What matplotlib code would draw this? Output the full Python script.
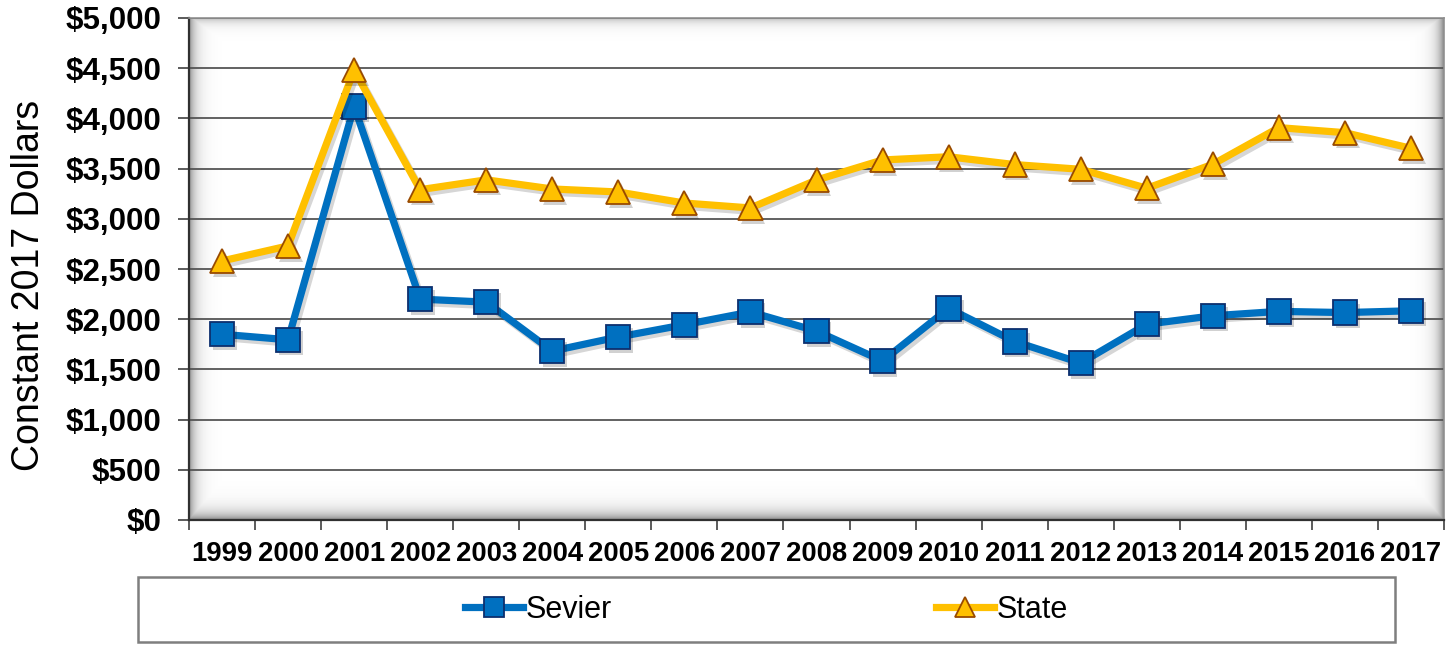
import numpy as np
import matplotlib
matplotlib.use("Agg")
import matplotlib.pyplot as plt
import matplotlib.patheffects as pe
from matplotlib.patches import Rectangle
from matplotlib.ticker import FuncFormatter, FixedLocator

plt.rcParams['font.family'] = ['Liberation Sans', 'DejaVu Sans']

years = ['1999', '2000', '2001', '2002', '2003', '2004', '2005', '2006', '2007', '2008',
         '2009', '2010', '2011', '2012', '2013', '2014', '2015', '2016', '2017']
sevier = [1850, 1795, 4120, 2200, 2170, 1683, 1823, 1945, 2072, 1882,
          1584, 2108, 1778, 1564, 1950, 2034, 2078, 2066, 2084]
state = [2580, 2730, 4482, 3290, 3388, 3297, 3267, 3157, 3108, 3386,
         3586, 3618, 3540, 3493, 3304, 3543, 3908, 3858, 3702]
yticks = list(range(0, 5001, 500))
series_names = ['Sevier', 'State']

W, H = 1452, 646
fig = plt.figure(figsize=(W / 100, H / 100), dpi=100)
ax = fig.add_axes([189 / W, 1 - 520 / H, (1444 - 189) / W, (520 - 18) / H])

x = np.arange(len(years))

# inner shadow of plot area
ny, nx = 502, 1255
yy, xx = np.mgrid[0:ny, 0:nx]
d_left = xx
d_right = nx - 1 - xx
d_bottom = ny - 1 - yy
d_top = yy
a = np.maximum.reduce([
    0.60 * np.exp(-d_left / 6.5),
    0.65 * np.exp(-d_right / 6.5),
    0.65 * np.exp(-d_bottom / 7.5),
    0.35 * np.exp(-d_top / 5.0),
])
img = np.zeros((ny, nx, 4))
img[..., :3] = 0.3
img[..., 3] = a
ax.imshow(img, extent=(0, 1, 0, 1), transform=ax.transAxes, aspect='auto',
          zorder=0.2, interpolation='bilinear')

ax.set_xlim(-0.5, len(years) - 0.5)
ax.set_ylim(0, 5000)
ax.set_axisbelow(True)
ax.yaxis.grid(True, color='#555555', linewidth=1.3)

shadow_line = [pe.SimpleLineShadow(offset=(2, -2.5), shadow_color='k', alpha=0.16), pe.Normal()]
shadow_mark = [pe.SimplePatchShadow(offset=(2, -2.5), shadow_rgbFace='k', alpha=0.18), pe.Normal()]

# Sevier
ax.plot(x, sevier, color='#0070C0', linewidth=5.2, solid_joinstyle='round',
        zorder=3, path_effects=shadow_line)
ax.plot(x, sevier, linestyle='none', marker='s', markersize=17.5,
        markerfacecolor='#0070C0', markeredgecolor='#0D2F6E', markeredgewidth=1.3,
        zorder=4, path_effects=shadow_mark)
# State
ax.plot(x, state, color='#FFC000', linewidth=5.2, solid_joinstyle='round',
        zorder=5, path_effects=shadow_line)
ax.plot(x, state, linestyle='none', marker='^', markersize=17.5,
        markerfacecolor='#FFC000', markeredgecolor='#994A00', markeredgewidth=1.3,
        zorder=6, path_effects=shadow_mark)

# axes styling
for s in ['left', 'bottom']:
    ax.spines[s].set_color('#303030')
    ax.spines[s].set_linewidth(1.6)
for s in ['top', 'right']:
    ax.spines[s].set_color('#909090')
    ax.spines[s].set_linewidth(1.2)

ax.set_yticks(yticks)
ax.yaxis.set_major_formatter(FuncFormatter(lambda v, p: '${:,.0f}'.format(v)))
ax.tick_params(axis='y', length=8, width=1.2, color='#404040', pad=12,
               labelsize=22.5)
for lab in ax.get_yticklabels():
    lab.set_fontweight('bold')

ax.xaxis.set_major_locator(FixedLocator(np.arange(-0.5, len(years), 1.0)))
ax.xaxis.set_minor_locator(FixedLocator(x))
ax.set_xticklabels([], minor=False)
ax.set_xticks(x, labels=years, minor=True)
ax.tick_params(axis='x', which='major', length=7, width=1.2, color='#404040')
ax.tick_params(axis='x', which='minor', length=0, pad=15, labelsize=19.8)
for lab in ax.get_xticklabels(minor=True):
    lab.set_fontweight('bold')

ax.set_ylabel('Constant 2017 Dollars', fontsize=27)
ax.yaxis.label.set_va('center')
ax.yaxis.set_label_coords((28.5 - 189) / 1255, (520 - 285) / 502)

# legend frame
fig.patches.append(Rectangle((138 / W, 1 - 642 / H), (1395 - 138) / W, (642 - 577) / H,
                             transform=fig.transFigure, fill=False,
                             edgecolor='#7F7F7F', linewidth=1.8))
h1 = plt.Line2D([], [], color='#0070C0', linewidth=5.2, marker='s', markersize=15,
                markerfacecolor='#0070C0', markeredgecolor='#0D2F6E', markeredgewidth=1.3)
h2 = plt.Line2D([], [], color='#FFC000', linewidth=5.2, marker='^', markersize=15,
                markerfacecolor='#FFC000', markeredgecolor='#994A00', markeredgewidth=1.3)
fig.legend([h1, h2], series_names, loc='center',
           bbox_to_anchor=((138 + 1395) / 2 / W, 1 - 609.5 / H),
           ncol=2, frameon=False, fontsize=22, handlelength=1.9,
           handletextpad=0.1, columnspacing=10.6)

fig.savefig('out.png', dpi=100)
